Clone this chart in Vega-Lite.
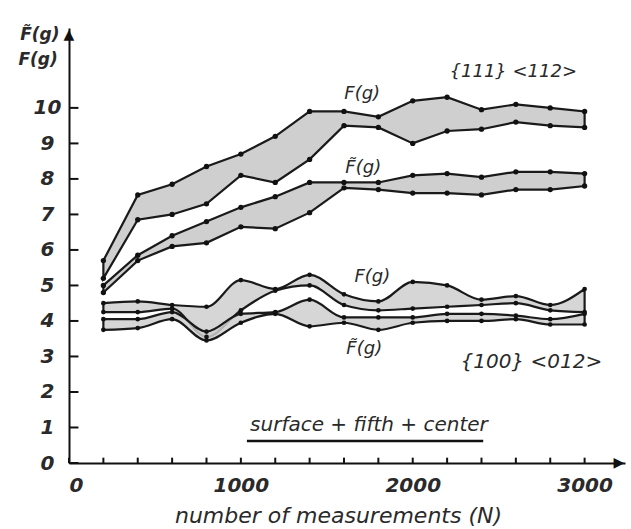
{
  "$schema": "https://vega.github.io/schema/vega-lite/v6.json",
  "width": 556,
  "height": 435,
  "autosize": "none",
  "padding": {"left": 69, "top": 28, "right": 6, "bottom": 66},
  "background": "white",
  "config": {
    "view": {"stroke": null},
    "font": "DejaVu Sans",
    "axis": {
      "grid": false,
      "ticks": false,
      "tickSize": 0,
      "domainColor": "#111",
      "domainWidth": 2,
      "labelFont": "DejaVu Sans",
      "labelFontStyle": "italic",
      "labelFontWeight": "bold",
      "labelColor": "#2a2a2a",
      "labelOverlap": false,
      "titleColor": "#2a2a2a"
    }
  },
  "datasets": {
    "bands": [
      {"band": "F111", "N": 200, "hi": 5.7, "lo": 5.2},
      {"band": "F111", "N": 400, "hi": 7.55, "lo": 6.85},
      {"band": "F111", "N": 600, "hi": 7.85, "lo": 7.0},
      {"band": "F111", "N": 800, "hi": 8.35, "lo": 7.3},
      {"band": "F111", "N": 1000, "hi": 8.7, "lo": 8.1},
      {"band": "F111", "N": 1200, "hi": 9.2, "lo": 7.9},
      {"band": "F111", "N": 1400, "hi": 9.9, "lo": 8.55},
      {"band": "F111", "N": 1600, "hi": 9.9, "lo": 9.5},
      {"band": "F111", "N": 1800, "hi": 9.75, "lo": 9.45},
      {"band": "F111", "N": 2000, "hi": 10.2, "lo": 9.0},
      {"band": "F111", "N": 2200, "hi": 10.3, "lo": 9.35},
      {"band": "F111", "N": 2400, "hi": 9.95, "lo": 9.4},
      {"band": "F111", "N": 2600, "hi": 10.1, "lo": 9.6},
      {"band": "F111", "N": 2800, "hi": 10.0, "lo": 9.5},
      {"band": "F111", "N": 3000, "hi": 9.9, "lo": 9.45},
      {"band": "Ft111", "N": 200, "hi": 5.0, "lo": 4.8},
      {"band": "Ft111", "N": 400, "hi": 5.85, "lo": 5.7},
      {"band": "Ft111", "N": 600, "hi": 6.4, "lo": 6.1},
      {"band": "Ft111", "N": 800, "hi": 6.8, "lo": 6.2},
      {"band": "Ft111", "N": 1000, "hi": 7.2, "lo": 6.65},
      {"band": "Ft111", "N": 1200, "hi": 7.5, "lo": 6.6},
      {"band": "Ft111", "N": 1400, "hi": 7.9, "lo": 7.05},
      {"band": "Ft111", "N": 1600, "hi": 7.9, "lo": 7.75},
      {"band": "Ft111", "N": 1800, "hi": 7.9, "lo": 7.7},
      {"band": "Ft111", "N": 2000, "hi": 8.1, "lo": 7.6},
      {"band": "Ft111", "N": 2200, "hi": 8.15, "lo": 7.6},
      {"band": "Ft111", "N": 2400, "hi": 8.05, "lo": 7.55},
      {"band": "Ft111", "N": 2600, "hi": 8.2, "lo": 7.7},
      {"band": "Ft111", "N": 2800, "hi": 8.2, "lo": 7.7},
      {"band": "Ft111", "N": 3000, "hi": 8.15, "lo": 7.8}
    ],
    "bands100": [
      {"band": "F100", "N": 200, "hi": 4.5, "lo": 4.25},
      {"band": "F100", "N": 400, "hi": 4.55, "lo": 4.25},
      {"band": "F100", "N": 600, "hi": 4.45, "lo": 4.35},
      {"band": "F100", "N": 800, "hi": 4.4, "lo": 3.55},
      {"band": "F100", "N": 1000, "hi": 5.15, "lo": 4.3},
      {"band": "F100", "N": 1200, "hi": 4.9, "lo": 4.85},
      {"band": "F100", "N": 1400, "hi": 5.3, "lo": 5.0},
      {"band": "F100", "N": 1600, "hi": 4.75, "lo": 4.45},
      {"band": "F100", "N": 1800, "hi": 4.55, "lo": 4.3},
      {"band": "F100", "N": 2000, "hi": 5.1, "lo": 4.35},
      {"band": "F100", "N": 2200, "hi": 5.0, "lo": 4.4},
      {"band": "F100", "N": 2400, "hi": 4.6, "lo": 4.45},
      {"band": "F100", "N": 2600, "hi": 4.7, "lo": 4.5},
      {"band": "F100", "N": 2800, "hi": 4.45, "lo": 4.3},
      {"band": "F100", "N": 3000, "hi": 4.9, "lo": 4.25},
      {"band": "Ft100", "N": 200, "hi": 4.05, "lo": 3.75},
      {"band": "Ft100", "N": 400, "hi": 4.05, "lo": 3.8},
      {"band": "Ft100", "N": 600, "hi": 4.25, "lo": 4.05},
      {"band": "Ft100", "N": 800, "hi": 3.7, "lo": 3.45},
      {"band": "Ft100", "N": 1000, "hi": 4.2, "lo": 3.95},
      {"band": "Ft100", "N": 1200, "hi": 4.25, "lo": 4.2},
      {"band": "Ft100", "N": 1400, "hi": 4.6, "lo": 3.85},
      {"band": "Ft100", "N": 1600, "hi": 4.1, "lo": 3.95},
      {"band": "Ft100", "N": 1800, "hi": 4.1, "lo": 3.75},
      {"band": "Ft100", "N": 2000, "hi": 4.1, "lo": 3.95},
      {"band": "Ft100", "N": 2200, "hi": 4.2, "lo": 4.0},
      {"band": "Ft100", "N": 2400, "hi": 4.2, "lo": 4.0},
      {"band": "Ft100", "N": 2600, "hi": 4.15, "lo": 4.05},
      {"band": "Ft100", "N": 2800, "hi": 4.05, "lo": 3.9},
      {"band": "Ft100", "N": 3000, "hi": 4.2, "lo": 3.9}
    ],
    "xticks": [
      {"N": 0}, {"N": 200}, {"N": 400}, {"N": 600}, {"N": 800}, {"N": 1000},
      {"N": 1200}, {"N": 1400}, {"N": 1600}, {"N": 1800}, {"N": 2000},
      {"N": 2200}, {"N": 2400}, {"N": 2600}, {"N": 2800}, {"N": 3000}
    ],
    "yticks": [
      {"v": 0}, {"v": 1}, {"v": 2}, {"v": 3}, {"v": 4}, {"v": 5},
      {"v": 6}, {"v": 7}, {"v": 8}, {"v": 9}, {"v": 10}
    ],
    "one": [{}]
  },
  "layer": [
    {
      "data": {"name": "bands"},
      "mark": {"type": "area", "fill": "#cfcfcf", "stroke": "#1a1a1a", "strokeWidth": 2.2, "interpolate": "linear"},
      "encoding": {
        "x": {
          "field": "N", "type": "quantitative",
          "scale": {"domain": [0, 3235], "nice": false, "zero": false},
          "axis": {
            "values": [0, 1000, 2000, 3000],
            "format": "d",
            "labelFontSize": 20,
            "labelPadding": 12,
            "title": "number  of  measurements (N)",
            "titleFont": "DejaVu Sans",
            "titleFontStyle": "italic",
            "titleFontWeight": "normal",
            "titleFontSize": 22,
            "titleX": 269,
            "titleY": 52,
            "titleBaseline": "middle",
            "titleAnchor": "middle"
          }
        },
        "y": {
          "field": "hi", "type": "quantitative",
          "scale": {"domain": [0, 12.25], "nice": false, "zero": false},
          "axis": {
            "values": [0, 1, 2, 3, 4, 5, 6, 7, 8, 9, 10],
            "labelFontSize": 20,
            "labelAlign": "center",
            "labelPadding": 22,
            "title": null
          }
        },
        "y2": {"field": "lo"},
        "detail": {"field": "band"}
      }
    },
    {
      "data": {"name": "bands100"},
      "mark": {"type": "area", "fill": "#cfcfcf", "fillOpacity": 0.85, "stroke": "#1a1a1a", "strokeWidth": 2.2, "interpolate": "monotone"},
      "encoding": {
        "x": {"field": "N", "type": "quantitative"},
        "y": {"field": "hi", "type": "quantitative"},
        "y2": {"field": "lo"},
        "detail": {"field": "band"}
      }
    },
    {
      "data": {"name": "bands"},
      "transform": [{"fold": ["hi", "lo"], "as": ["edge", "v"]}],
      "mark": {"type": "point", "filled": true, "color": "#111", "size": 28, "opacity": 1},
      "encoding": {
        "x": {"field": "N", "type": "quantitative"},
        "y": {"field": "v", "type": "quantitative"}
      }
    },
    {
      "data": {"name": "bands100"},
      "transform": [{"fold": ["hi", "lo"], "as": ["edge", "v"]}],
      "mark": {"type": "point", "filled": true, "color": "#111", "size": 22, "opacity": 1},
      "encoding": {
        "x": {"field": "N", "type": "quantitative"},
        "y": {"field": "v", "type": "quantitative"}
      }
    },
    {
      "data": {"name": "xticks"},
      "mark": {"type": "rule", "color": "#111", "strokeWidth": 2},
      "encoding": {
        "x": {"field": "N", "type": "quantitative"},
        "y": {"datum": 0},
        "y2": {"datum": 0.15}
      }
    },
    {
      "data": {"name": "yticks"},
      "mark": {"type": "rule", "color": "#111", "strokeWidth": 2},
      "encoding": {
        "y": {"field": "v", "type": "quantitative"},
        "x": {"datum": 0},
        "x2": {"datum": 55}
      }
    },
    {
      "data": {"name": "one"},
      "mark": {"type": "text", "text": "▲", "fontSize": 14, "color": "#111", "align": "center", "baseline": "middle"},
      "encoding": {"x": {"datum": 0}, "y": {"datum": 12.05}}
    },
    {
      "data": {"name": "one"},
      "mark": {"type": "text", "text": "▶", "fontSize": 14, "color": "#111", "align": "center", "baseline": "middle"},
      "encoding": {"x": {"datum": 3200}, "y": {"datum": 0}}
    },
    {
      "data": {"name": "one"},
      "mark": {"type": "text", "text": "F̃(g)", "fontSize": 17, "fontStyle": "italic", "fontWeight": "bold", "color": "#2a2a2a"},
      "encoding": {"x": {"datum": -170}, "y": {"datum": 12.05}}
    },
    {
      "data": {"name": "one"},
      "mark": {"type": "text", "text": "F(g)", "fontSize": 17, "fontStyle": "italic", "fontWeight": "bold", "color": "#2a2a2a"},
      "encoding": {"x": {"datum": -180}, "y": {"datum": 11.35}}
    },
    {
      "data": {"name": "one"},
      "mark": {"type": "text", "text": "F(g)", "fontSize": 18, "fontStyle": "italic", "color": "#2a2a2a"},
      "encoding": {"x": {"datum": 1706}, "y": {"datum": 10.4}}
    },
    {
      "data": {"name": "one"},
      "mark": {"type": "text", "text": "F̃(g)", "fontSize": 18, "fontStyle": "italic", "color": "#2a2a2a"},
      "encoding": {"x": {"datum": 1712}, "y": {"datum": 8.3}}
    },
    {
      "data": {"name": "one"},
      "mark": {"type": "text", "text": "{111} <112>", "fontSize": 18, "fontStyle": "italic", "color": "#2a2a2a"},
      "encoding": {"x": {"datum": 2585}, "y": {"datum": 11.0}}
    },
    {
      "data": {"name": "one"},
      "mark": {"type": "text", "text": "F(g)", "fontSize": 18, "fontStyle": "italic", "color": "#2a2a2a"},
      "encoding": {"x": {"datum": 1765}, "y": {"datum": 5.25}}
    },
    {
      "data": {"name": "one"},
      "mark": {"type": "text", "text": "F̃(g)", "fontSize": 18, "fontStyle": "italic", "color": "#2a2a2a"},
      "encoding": {"x": {"datum": 1718}, "y": {"datum": 3.2}}
    },
    {
      "data": {"name": "one"},
      "mark": {"type": "text", "text": "{100} <012>", "fontSize": 20, "fontStyle": "italic", "color": "#2a2a2a"},
      "encoding": {"x": {"datum": 2690}, "y": {"datum": 2.85}}
    },
    {
      "data": {"name": "one"},
      "mark": {"type": "text", "text": "surface + fifth + center", "fontSize": 20, "fontStyle": "italic", "color": "#2a2a2a"},
      "encoding": {"x": {"datum": 1745}, "y": {"datum": 1.08}}
    },
    {
      "data": {"name": "one"},
      "mark": {"type": "rule", "color": "#111", "strokeWidth": 2.5},
      "encoding": {"x": {"datum": 1035}, "x2": {"datum": 2410}, "y": {"datum": 0.62}}
    }
  ]
}
